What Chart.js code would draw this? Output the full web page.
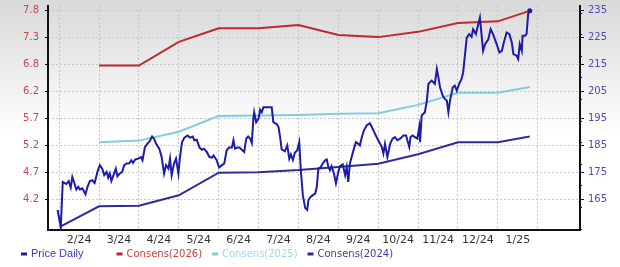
<!DOCTYPE html>
<html>
<head>
<meta charset="utf-8">
<script src="https://cdn.jsdelivr.net/npm/chart.js@4.4.1/dist/chart.umd.min.js"></script>
<style>
  html, body { margin: 0; padding: 0; background: #fff; }
  #wrap { width: 620px; height: 267px; background: linear-gradient(to bottom, #d9d9d9 0px, #ffffff 135px); }
  canvas { display: block; }
</style>
</head>
<body>
<div id="wrap"><canvas id="myChart" width="620" height="267"></canvas></div>
<script>
// # Month labels (one per month, centred) and axis tick labels
const monthLabels = ["2/24", "3/24", "4/24", "5/24", "6/24", "7/24", "8/24", "9/24", "10/24", "11/24", "12/24", "1/25"];
const priceTicks = [165, 175, 185, 195, 205, 215, 225, 235];
const epsTickLabels = ["4.2", "4.7", "5.2", "5.7", "6.2", "6.8", "7.3", "7.8"];

// # Daily price (x = months since start of Feb 2024)
const priceMonth = [
  -0.04, 0.04, 0.09, 0.18, 0.24, 0.29, 0.33, 0.38, 0.43, 0.48,
  0.52, 0.58, 0.66, 0.71, 0.77, 0.83, 0.89, 0.96, 1.02, 1.08,
  1.13, 1.19, 1.23, 1.27, 1.31, 1.37, 1.42, 1.46, 1.52, 1.58,
  1.63, 1.69, 1.75, 1.81, 1.85, 1.91, 1.98, 2.05, 2.09, 2.15,
  2.21, 2.27, 2.33, 2.38, 2.43, 2.51, 2.57, 2.63, 2.68, 2.74,
  2.78, 2.82, 2.88, 2.93, 2.99, 3.02, 3.08, 3.14, 3.22, 3.28,
  3.35, 3.39, 3.45, 3.52, 3.58, 3.63, 3.70, 3.77, 3.83, 3.87,
  3.95, 4.01, 4.08, 4.14, 4.20, 4.26, 4.33, 4.37, 4.41, 4.47,
  4.52, 4.58, 4.64, 4.69, 4.74, 4.79, 4.83, 4.87, 4.89, 4.94,
  5.00, 5.04, 5.08, 5.12, 5.19, 5.25, 5.33, 5.37, 5.46, 5.50,
  5.54, 5.58, 5.66, 5.72, 5.77, 5.81, 5.86, 5.91, 5.97, 6.02,
  6.06, 6.11, 6.17, 6.22, 6.25, 6.31, 6.36, 6.42, 6.46, 6.50,
  6.56, 6.61, 6.67, 6.71, 6.75, 6.79, 6.83, 6.89, 6.94, 7.00,
  7.04, 7.11, 7.17, 7.21, 7.25, 7.29, 7.38, 7.44, 7.50, 7.54,
  7.59, 7.64, 7.71, 7.79, 7.84, 7.92, 8.00, 8.09, 8.13, 8.17,
  8.23, 8.30, 8.36, 8.42, 8.48, 8.55, 8.63, 8.70, 8.73, 8.78,
  8.81, 8.86, 8.92, 8.98, 9.03, 9.05, 9.09, 9.17, 9.22, 9.26,
  9.34, 9.42, 9.47, 9.51, 9.55, 9.62, 9.67, 9.72, 9.76, 9.80,
  9.87, 9.92, 9.97, 10.03, 10.09, 10.13, 10.22, 10.28, 10.34, 10.38,
  10.45, 10.51, 10.55, 10.59, 10.63, 10.68, 10.76, 10.82, 10.88, 10.97,
  11.04, 11.10, 11.15, 11.22, 11.29, 11.35, 11.39, 11.47, 11.51, 11.55,
  11.60, 11.62, 11.68, 11.72, 11.76, 11.80
];
const priceValue = [
  161.1, 154.7, 171.5, 170.7, 171.8, 169.4, 173.3, 171.1, 168.7, 169.7,
  168.7, 169.1, 166.9, 169.7, 171.8, 172.1, 171.1, 175.2, 177.7, 176.4,
  174.0, 175.2, 173.1, 174.6, 171.9, 174.3, 176.4, 173.6, 174.6, 175.2,
  177.7, 178.3, 178.3, 179.5, 178.5, 179.8, 180.1, 180.7, 179.5, 184.4,
  185.6, 186.6, 188.3, 187.5, 185.6, 183.8, 180.7, 174.6, 177.7, 176.4,
  180.1, 174.0, 178.3, 180.1, 174.6, 179.5, 186.2, 187.9, 188.7, 187.9,
  188.3, 186.9, 187.1, 184.2, 183.4, 183.8, 182.6, 180.7, 180.5, 181.3,
  179.5, 176.8, 177.7, 178.3, 183.2, 184.2, 184.2, 186.9, 183.8, 184.2,
  184.2, 183.4, 182.6, 187.5, 188.3, 187.5, 185.9, 194.9, 197.3, 193.6,
  194.9, 198.2, 197.3, 199.1, 199.1, 199.1, 199.1, 193.6, 192.8, 191.8,
  188.1, 183.5, 182.8, 185.0, 180.1, 181.7, 179.6, 182.3, 183.2, 186.2,
  175.8, 166.6, 161.8, 161.1, 164.8, 166.0, 166.6, 167.2, 169.7, 176.4,
  177.0, 178.3, 179.5, 179.8, 177.0, 175.8, 177.3, 174.6, 171.0, 175.2,
  177.3, 178.0, 174.0, 177.0, 171.5, 178.3, 183.2, 186.2, 185.6, 185.0,
  188.1, 190.5, 192.4, 193.2, 191.8, 189.3, 186.9, 184.4, 182.0, 185.6,
  180.7, 185.6, 187.5, 188.1, 186.9, 187.5, 188.7, 188.7, 186.9, 184.4,
  188.1, 188.7, 188.1, 187.5, 191.8, 186.2, 196.1, 197.3, 201.6, 207.8,
  209.0, 207.8, 213.3, 210.2, 206.5, 203.4, 202.2, 201.6, 197.3, 201.6,
  206.5, 207.1, 205.3, 207.8, 209.6, 212.0, 224.9, 226.2, 225.2, 228.0,
  226.2, 229.9, 232.3, 226.2, 220.0, 222.5, 224.3, 228.0, 226.2, 222.5,
  219.4, 220.0, 223.1, 226.8, 226.2, 223.1, 218.8, 218.2, 217.0, 222.5,
  220.0, 225.6, 225.6, 226.2, 233.6, 234.8
];

// # Consensus EPS estimates (monthly)
const consensMonth = [1, 2, 3, 4, 5, 6, 7, 8, 9, 10, 11, 11.8];
const consens2026 = [6.75, 6.75, 7.20, 7.46, 7.46, 7.52, 7.33, 7.29, 7.39, 7.56, 7.59, 7.79];
const consens2025 = [5.29, 5.32, 5.49, 5.79, 5.80, 5.81, 5.83, 5.84, 6.00, 6.23, 6.23, 6.34];
const consens2024Month = [0.04, 1, 2, 3, 4, 5, 6, 7, 8, 9, 10, 11, 11.8];
const consens2024 = [3.69, 4.07, 4.08, 4.28, 4.71, 4.72, 4.76, 4.82, 4.88, 5.06, 5.29, 5.29, 5.40];

// # Helpers
const toPoints = (xs, ys) => xs.map((x, i) => ({ x: x, y: ys[i] }));

// left axis (EPS) is tied to the right axis (price) through the tick pairs
const epsAt = (p) => {
  const e0 = parseFloat(epsTickLabels[0]);
  const e1 = parseFloat(epsTickLabels[epsTickLabels.length - 1]);
  const p0 = priceTicks[0];
  const p1 = priceTicks[priceTicks.length - 1];
  return e0 + ((p - p0) * (e1 - e0)) / (p1 - p0);
};

const priceMin = 153.7;
const priceMax = 236.6;
const axisFont = { family: "DejaVu Sans", size: 10 };

// # Legend drawn in fixed-width columns under the axis
const legendRow = {
  id: "legendRow",
  afterDraw(chart) {
    const ctx = chart.ctx;
    chart.data.datasets.forEach((ds, i) => {
      const x = 21 + i * 95.5;
      const y = 254;
      ctx.save();
      ctx.fillStyle = ds.borderColor;
      ctx.fillRect(x, y - 1.5, 6, 3);
      ctx.fillStyle = ds.legendColor;
      ctx.font = ds.legendFont;
      ctx.textBaseline = "middle";
      ctx.fillText(ds.label, x + 10, y);
      ctx.restore();
    });
  },
};

// # Get the canvas
const chart = document.getElementById("myChart");

// # Create the chart
new Chart(chart, {
  type: "line",
  data: {
    datasets: [
      {
        label: "Price Daily",
        data: toPoints(priceMonth, priceValue),
        xAxisID: "x",
        yAxisID: "y",
        borderColor: "#1c1ca8",
        backgroundColor: "#1c1ca8",
        legendColor: "#3a3ac4",
        legendFont: "11px 'Liberation Sans'",
        borderWidth: 2,
        pointRadius: (c) => (c.dataIndex === priceValue.length - 1 ? 1.5 : 0),
      },
      {
        label: "Consens(2026)",
        data: toPoints(consensMonth, consens2026),
        xAxisID: "x",
        yAxisID: "yEps",
        borderColor: "#c0282e",
        backgroundColor: "#c0282e",
        legendColor: "#c8403f",
        legendFont: "10px 'DejaVu Sans'",
        borderWidth: 2,
        pointRadius: 0,
      },
      {
        label: "Consens(2025)",
        data: toPoints(consensMonth, consens2025),
        xAxisID: "x",
        yAxisID: "yEps",
        borderColor: "#80cde0",
        backgroundColor: "#80cde0",
        legendColor: "#9ed6ea",
        legendFont: "10px 'DejaVu Sans'",
        borderWidth: 2,
        pointRadius: 0,
      },
      {
        label: "Consens(2024)",
        data: toPoints(consens2024Month, consens2024),
        xAxisID: "x",
        yAxisID: "yEps",
        borderColor: "#2c2c9c",
        backgroundColor: "#2c2c9c",
        legendColor: "#3c3cac",
        legendFont: "10px 'DejaVu Sans'",
        borderWidth: 2,
        pointRadius: 0,
      },
    ],
  },
  options: {
    responsive: false,
    animation: false,
    layout: { padding: { top: 5, bottom: 20, left: 0, right: 0 } },
    plugins: { legend: { display: false }, tooltip: { enabled: false } },
    elements: { line: { tension: 0 } },
    scales: {
      x: {
        type: "linear",
        position: "bottom",
        min: -0.28,
        max: 13.06,
        afterBuildTicks: (s) => {
          const t = [];
          for (let i = 0; i < monthLabels.length; i++) {
            t.push({ value: i });
            t.push({ value: i + 0.5 });
          }
          t.push({ value: monthLabels.length });
          s.ticks = t;
        },
        afterFit: (s) => {
          s.height = 17;
          s.paddingLeft = 0;
          s.paddingRight = 0;
        },
        grid: {
          color: (c) => (c.tick && Number.isInteger(c.tick.value) ? "#c6c6c6" : "rgba(0,0,0,0)"),
          drawTicks: false,
        },
        border: { display: true, color: "#111", width: 2, dash: [2, 2] },
        ticks: {
          autoSkip: false,
          maxRotation: 0,
          padding: 4,
          color: "#333",
          font: { family: "DejaVu Sans", size: 11 },
          callback: (v) => (Number.isInteger(v) ? "" : monthLabels[Math.floor(v)]),
        },
      },
      yEps: {
        type: "linear",
        position: "left",
        min: epsAt(priceMin),
        max: epsAt(priceMax),
        afterBuildTicks: (s) => {
          s.ticks = priceTicks.map((p) => ({ value: epsAt(p) }));
        },
        afterFit: (s) => {
          s.width = 48;
          s.paddingTop = 0;
          s.paddingBottom = 0;
        },
        grid: { drawOnChartArea: false, tickLength: 3, tickColor: "#111" },
        border: { display: true, color: "#111", width: 2 },
        ticks: {
          padding: 6,
          color: "#c8474d",
          font: axisFont,
          callback: (v, i) => epsTickLabels[i],
        },
      },
      yMinor: {
        type: "linear",
        position: "right",
        weight: 0,
        min: priceMin,
        max: priceMax,
        afterBuildTicks: (s) => {
          const t = [];
          for (let v = 154; v <= 236; v += 2) t.push({ value: v });
          s.ticks = t;
        },
        afterFit: (s) => {
          s.width = 0;
          s.paddingTop = 0;
          s.paddingBottom = 0;
        },
        grid: { drawOnChartArea: false, tickLength: 2, tickColor: "#111" },
        border: { display: false },
        ticks: { padding: 0, callback: () => "" },
      },
      y: {
        type: "linear",
        position: "right",
        weight: 1,
        min: priceMin,
        max: priceMax,
        afterBuildTicks: (s) => {
          s.ticks = priceTicks.map((v) => ({ value: v }));
        },
        afterFit: (s) => {
          s.width = 40;
          s.paddingTop = 0;
          s.paddingBottom = 0;
        },
        grid: { drawOnChartArea: true, color: "#c8c8c8", tickLength: 4, tickColor: "#111" },
        border: { display: true, color: "#111", width: 2, dash: [2, 2] },
        ticks: { padding: 4, color: "#4b4bb8", font: axisFont },
      },
    },
  },
  plugins: [legendRow],
});
</script>
</body>
</html>
